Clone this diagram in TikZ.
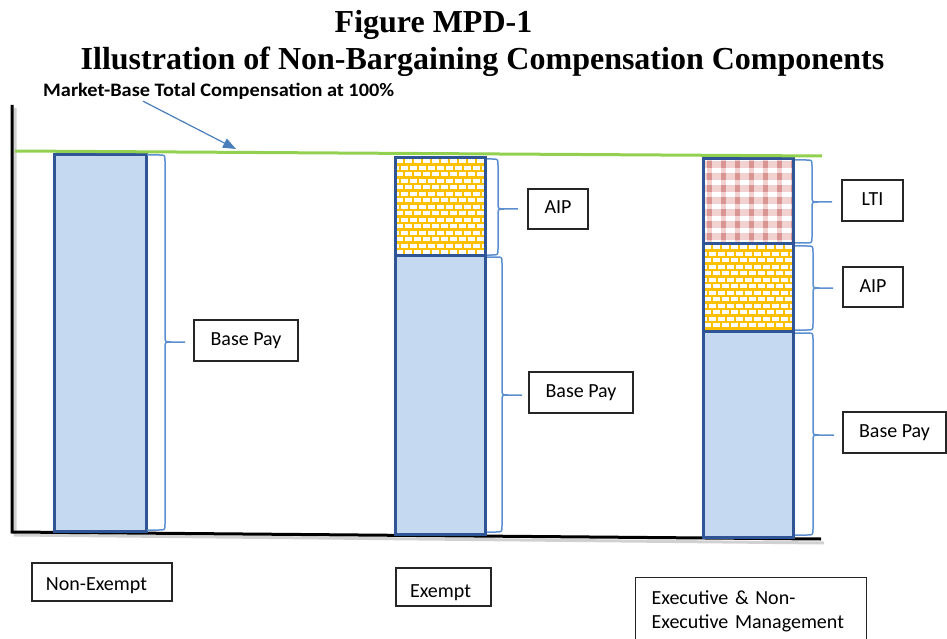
\documentclass[tikz,border=0pt]{standalone}
\usepackage{fontspec}
\setmainfont{Carlito}
\newfontfamily\titlefont{Liberation Serif}
\usetikzlibrary{arrows.meta,calc}

\definecolor{barfill}{HTML}{C5D9F1}
\definecolor{barline}{HTML}{2F5597}
\definecolor{bracecol}{HTML}{5B8FD0}
\definecolor{mktgreen}{HTML}{92D050}
\definecolor{arrowblue}{HTML}{4A7EBB}
\definecolor{brickgold}{HTML}{FFC000}
\definecolor{plaiddark}{HTML}{D99594}
\definecolor{plaidlight}{HTML}{F2D2D1}

\tikzset{
  titletext/.style={font=\titlefont\bfseries\fontsize{32bp}{34bp}\selectfont, inner sep=0pt, anchor=base},
  mkttext/.style={font=\bfseries\fontsize{19bp}{22bp}\selectfont, inner sep=0pt, anchor=base west},
  lbl/.style={draw=black!85, line width=1.2bp, fill=white,
    font=\fontsize{20bp}{24bp}\selectfont, inner sep=0pt, align=center,
    text height=14bp, text depth=4bp},
  catbox/.style={draw=black!85, line width=1.2bp, fill=white,
    font=\fontsize{20bp}{24bp}\selectfont, inner xsep=14bp, inner ysep=0pt, align=left},
  axisline/.style={line width=3bp, black},
  axisshadow/.style={line width=3bp, black!18},
  barborder/.style={line width=3bp, barline},
  bracket/.style={line width=1.5bp, bracecol, line join=round},
  pointer/.style={line width=1.2bp, arrowblue, -{Triangle[length=13bp,width=10bp]}},
  marketline/.style={line width=3bp, mktgreen}
}

% curly bracket: #1 start x, #2 spine x, #3 tip x, #4 top y, #5 tip y, #6 bottom y
\newcommand\curlybracket[6]{%
  \draw[bracket] (#1,#4) -- (#2-6,#4) .. controls (#2,#4) .. (#2,#4+6)
    -- (#2,#5-6) .. controls (#2,#5) .. (#2+6,#5) -- (#3,#5);
  \draw[bracket] (#2+6,#5) .. controls (#2,#5) .. (#2,#5+6)
    -- (#2,#6-6) .. controls (#2,#6) .. (#2-6,#6) -- (#1,#6);
}

% yellow brick texture inside a rectangle
\newcommand\brickfill[4]{%
  \begin{scope}
    \clip (#1,#2) rectangle (#3,#4);
    \fill[brickgold] (#1,#2) rectangle (#3,#4);
    \foreach \r in {0,...,16}{
      \foreach \k in {-1,...,10}{
        \pgfmathsetmacro\brkx{#1+\k*9+mod(\r,2)*4.5}
        \pgfmathsetmacro\brky{#2+\r*6.5}
        \fill[white] (\brkx+1,\brky+1.1) rectangle (\brkx+8,\brky+5.4);
      }}
  \end{scope}}

% pink plaid texture inside a rectangle
\newcommand\plaidfill[4]{%
  \begin{scope}
    \clip (#1,#2) rectangle (#3,#4);
    \fill[white] (#1,#2) rectangle (#3,#4);
    \foreach \c in {0,...,7}
      \fill[plaidlight] (#1+4+\c*14,#2) rectangle (#1+9+\c*14,#4);
    \foreach \r in {0,...,8}
      \fill[plaidlight] (#1,#2+2+\r*12) rectangle (#3,#2+9+\r*12);
    \foreach \c in {0,...,7}{
      \foreach \r in {0,...,8}{
        \fill[plaiddark] (#1+4+\c*14,#2+2+\r*12) rectangle (#1+9+\c*14,#2+9+\r*12);
      }}
  \end{scope}}

\begin{document}
\begin{tikzpicture}[x=1bp,y=-1bp]
\useasboundingbox (0,0) rectangle (947,639);

% title
\node[titletext] (title1) at (433.5,33) {Figure MPD-1};
\node[titletext] (title2) at (482.5,70) {Illustration of Non-Bargaining Compensation Components};

% axes
\draw[axisshadow] (15,108) -- (15,535) -- (824,543);
\draw[axisline] (12,105) -- (12,532) -- (821,539);

% Non-Exempt bar
\fill[barfill] (54,155) rectangle (146,531);
\draw[barborder] (54,155) rectangle (146,531);

% Exempt bar
\brickfill{395}{158}{485}{255}
\fill[barfill] (395,255) rectangle (485,534);
\draw[barborder] (395,158) rectangle (485,534);
\draw[barborder] (395,255) -- (485,255);

% Executive bar
\plaidfill{703}{159}{793}{244}
\brickfill{703}{244}{793}{331}
\fill[barfill] (703,331) rectangle (793,537);
\draw[barborder] (703,159) rectangle (793,537);
\draw[barborder] (703,244) -- (793,244);
\draw[barborder] (703,331) -- (793,331);

% market line
\draw[marketline] (15,151) -- (822,156);

% brackets
\curlybracket{147}{165}{185}{155}{342}{530}
\curlybracket{487}{498}{518}{159}{209}{255}
\curlybracket{487}{502}{522}{257}{395}{532}
\curlybracket{795}{812}{832}{160}{202}{243}
\curlybracket{795}{813}{833}{246}{288}{330}
\curlybracket{795}{813}{834}{333}{435}{535}

% component labels
\node[lbl, minimum width=104bp, minimum height=41bp] (bp1) at (246,340.5) {Base Pay};
\node[lbl, minimum width=60bp, minimum height=40bp] (aip2) at (558,209) {AIP};
\node[lbl, minimum width=104bp, minimum height=41bp] (bp2) at (581,392.5) {Base Pay};
\node[lbl, minimum width=61bp, minimum height=41bp] (lti3) at (872.5,200.5) {LTI};
\node[lbl, minimum width=60bp, minimum height=40bp] (aip3) at (873,287) {AIP};
\node[lbl, minimum width=103bp, minimum height=41bp] (bp3) at (894.5,432.5) {Base Pay};

% category labels
\node[catbox, text width=112bp, minimum height=38bp, text height=20bp, text depth=4bp] (cat1) at (102,582) {Non-Exempt};
\node[catbox, text width=67bp, minimum height=38bp, text height=25bp, text depth=4bp] (cat2) at (443.5,587) {Exempt};
\node[catbox, anchor=north west, text width=199bp, inner xsep=16bp, minimum height=67bp] (cat3) at (635,577) {Executive \& Non-\\Executive Management};

% market line caption and pointer
\node[mkttext] (mkt) at (43,97) {\scalebox{1.07}[1]{Market-Base Total Compensation at 100\%}};
\coordinate (mktpoint) at (236,149);
\draw[pointer] ($(mkt.south west)+(100,1)$) -- (mktpoint);
\end{tikzpicture}
\end{document}
